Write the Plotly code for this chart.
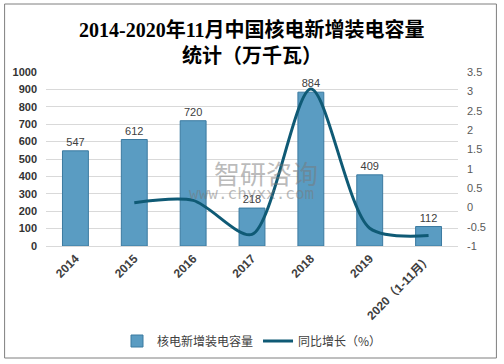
import plotly.graph_objects as go

categories = ["2014", "2015", "2016", "2017", "2018", "2019", "2020（1-11月）"]
capacity = [547, 612, 720, 218, 884, 409, 112]
growth_cats = ["2015", "2016", "2017", "2018", "2019", "2020（1-11月）"]
growth = [0.12, 0.18, -0.70, 3.06, -0.54, -0.73]
left_ticks = [0, 100, 200, 300, 400, 500, 600, 700, 800, 900, 1000]
right_ticks = [-1, -0.5, 0, 0.5, 1, 1.5, 2, 2.5, 3, 3.5]
right_labels = ["-1", "-0.5", "0", "0.5", "1", "1.5", "2", "2.5", "3", "3.5"]

L, R, T, B = 45.5, 45.5, 72, 118
W, H = 504, 364
pw, ph = W - L - R, H - T - B

def px(x):
    return (x - L) / pw

def py(y):
    return (H - B - y) / ph

fig = go.Figure()
fig.add_trace(go.Bar(
    x=categories, y=capacity, name="核电新增装电容量",
    marker=dict(color="#5a9cc2", line=dict(color="#3b7aa0", width=1)),
    width=0.44,
    text=[str(v) for v in capacity], textposition="outside",
    textfont=dict(size=11, color="#404040", family="Liberation Sans, Noto Sans CJK SC"),
    cliponaxis=False,
))
fig.add_trace(go.Scatter(
    x=growth_cats, y=growth, name="同比增长（%）", yaxis="y2",
    mode="lines", line=dict(color="#0f5a75", width=3, shape="spline", smoothing=0.8),
))

fig.update_layout(
    width=W, height=H,
    margin=dict(l=L, r=R, t=T, b=B, autoexpand=False),
    paper_bgcolor="white", plot_bgcolor="white",
    showlegend=True,
    font=dict(family="Liberation Sans, Noto Sans CJK SC", color="#404040"),
    xaxis=dict(
        type="category", tickangle=-45, showgrid=False, showline=True,
        linecolor="#d9d9d9", ticks="", automargin=False,
        tickfont=dict(size=12, color="#404040", family="Liberation Sans, Noto Sans CJK SC", weight="bold"),
    ),
    yaxis=dict(
        range=[0, 1000], tickvals=left_ticks, showgrid=True, gridcolor="#d9d9d9",
        zeroline=False, showline=False, ticks="", automargin=False, ticklabelstandoff=8,
        tickfont=dict(size=11, color="#333333", weight="bold"),
    ),
    yaxis2=dict(
        range=[-1, 3.5], tickvals=right_ticks, ticktext=right_labels, overlaying="y",
        side="right", showgrid=False, zeroline=False, showline=False, ticks="", automargin=False,
        ticklabelstandoff=8,
        tickfont=dict(size=11, color="#595959"),
    ),
    legend=dict(
        orientation="h", x=0.5, xanchor="center", y=py(341), yanchor="middle",
        font=dict(size=12, color="#404040", family="Noto Sans CJK SC"),
        itemwidth=30,
    ),
    shapes=[dict(
        type="rect", xref="paper", yref="paper",
        x0=px(4), x1=px(497), y0=py(358), y1=py(4),
        line=dict(color="#7f7f7f", width=1), fillcolor="rgba(0,0,0,0)", layer="below",
    )],
    annotations=[
        dict(text="<b>2014-2020年11月中国核电新增装电容量</b>", xref="paper", yref="paper",
             x=px(252), y=py(30), showarrow=False, xanchor="center", yanchor="middle",
             font=dict(size=20, color="#000000", family="Liberation Serif, Noto Sans CJK SC")),
        dict(text="<b>统计（万千瓦）</b>", xref="paper", yref="paper",
             x=px(252), y=py(55), showarrow=False, xanchor="center", yanchor="middle",
             font=dict(size=20, color="#000000", family="Liberation Serif, Noto Sans CJK SC")),
        dict(text="智研咨询", xref="paper", yref="paper",
             x=px(266), y=py(172), showarrow=False, xanchor="center", yanchor="middle",
             font=dict(size=26, color="rgba(120,120,120,0.5)", family="Noto Sans CJK SC")),
        dict(text="www.chyxx.com", xref="paper", yref="paper",
             x=px(251), y=py(193), showarrow=False, xanchor="center", yanchor="middle",
             font=dict(size=16, color="rgba(120,120,120,0.5)", family="DejaVu Sans Mono")),
    ],
)

fig.write_html("out.html", config={"displayModeBar": False},
               post_script="document.body.style.margin='0';document.body.style.overflow='hidden';")
